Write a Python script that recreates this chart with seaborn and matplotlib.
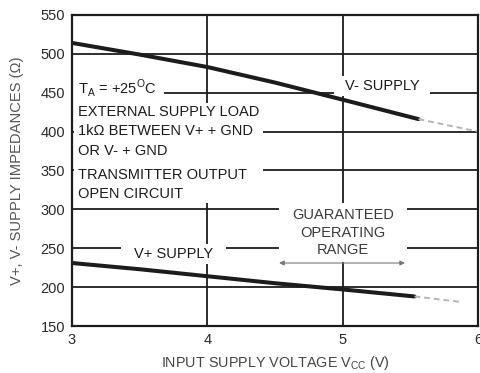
import matplotlib
matplotlib.use("Agg")
import matplotlib.pyplot as plt
from matplotlib.patches import Rectangle
from matplotlib.transforms import Bbox
import pandas as pd
import seaborn as sns

# Supply impedance vs. input supply voltage (TA = +25 C)
vcc_minus = [3.0, 3.5, 4.0, 4.5, 5.0, 5.56]
z_minus = [514, 499, 483, 463, 441, 416]
vcc_minus_ext = [5.56, 6.0]
z_minus_ext = [416, 400]

vcc_plus = [3.0, 3.5, 4.0, 4.5, 5.0, 5.53]
z_plus = [231, 223, 214, 205, 197, 188]
vcc_plus_ext = [5.53, 5.87]
z_plus_ext = [188, 181]

x_ticks = [3, 4, 5, 6]
y_ticks = [150, 200, 250, 300, 350, 400, 450, 500, 550]
operating_range = [4.53, 5.46]

sns.set_theme(style="white")
plt.rcParams["font.family"] = ["Liberation Sans", "DejaVu Sans"]

INK = "#1c1c1c"
FS = 10.5

fig = plt.figure(figsize=(4.8, 3.73), dpi=100)
ax = fig.add_axes([0.15, 0.126, 0.846, 0.834])

solid_minus = pd.DataFrame({"vcc": vcc_minus, "z": z_minus})
solid_plus = pd.DataFrame({"vcc": vcc_plus, "z": z_plus})
sns.lineplot(data=solid_minus, x="vcc", y="z", color=INK, lw=2.9, ax=ax, zorder=4)
sns.lineplot(data=solid_plus, x="vcc", y="z", color=INK, lw=2.9, ax=ax, zorder=4)
sns.lineplot(x=vcc_minus_ext, y=z_minus_ext, color="#b5b5b5", lw=1.4,
             linestyle=(0, (3, 2)), ax=ax, zorder=4)
sns.lineplot(x=vcc_plus_ext, y=z_plus_ext, color="#b5b5b5", lw=1.4,
             linestyle=(0, (3, 2)), ax=ax, zorder=4)

ax.set_xlim(3, 6)
ax.set_ylim(150, 550)
ax.set_xticks(x_ticks)
ax.set_yticks(y_ticks)
ax.set_axisbelow(True)
ax.grid(True, color=INK, lw=1.3)
ax.tick_params(length=0, labelsize=FS, colors="#2a2a2a", pad=5)
for sp in ax.spines.values():
    sp.set_color(INK)
    sp.set_linewidth(1.6)
    sp.set_zorder(5)

ax.set_ylabel("V+, V- SUPPLY IMPEDANCES (\u03a9)", fontsize=10.6, color="#555555", labelpad=12)
ax.set_xlabel("INPUT SUPPLY VOLTAGE V$_\\mathregular{CC}$ (V)", fontsize=10.4,
              color="#444444", labelpad=5)


def label(x, y, s, ha="left", color=INK, size=FS):
    return ax.text(x, y, s, ha=ha, va="center", fontsize=size, color=color, zorder=6)


def mask_behind(texts, padx, pady):
    """White panel behind a group of labels so grid lines stop around them."""
    fig.canvas.draw()
    r = fig.canvas.get_renderer()
    bb = Bbox.union([t.get_window_extent(r) for t in texts])
    inv = ax.transData.inverted()
    (x0, y0), (x1, y1) = inv.transform([[bb.x0 - padx, bb.y0 - pady],
                                        [bb.x1 + padx, bb.y1 + pady]])
    ax.add_patch(Rectangle((x0, y0), x1 - x0, y1 - y0, facecolor="white",
                           edgecolor="none", zorder=1))


t_temp = label(3.045, 456, "T$_\\mathregular{A}$ = +25$^\\mathregular{O}$C")
mask_behind([t_temp], 8, 3)

cond = [
    label(3.045, 425, "EXTERNAL SUPPLY LOAD"),
    label(3.045, 401, "1k\u03a9 BETWEEN V+ + GND"),
    label(3.045, 375, "OR V- + GND"),
    label(3.045, 344, "TRANSMITTER OUTPUT"),
    label(3.045, 320, "OPEN CIRCUIT"),
]
mask_behind(cond, 4, 2)

t_vm = label(5.29, 458, "V- SUPPLY", ha="center")
mask_behind([t_vm], 11, 3)

t_vp = label(3.75, 243, "V+ SUPPLY", ha="center")
mask_behind([t_vp], 13, 3)

gor = [
    label(5.0, 293, "GUARANTEED", ha="center", color="#3a3a3a"),
    label(5.0, 270, "OPERATING", ha="center", color="#3a3a3a"),
    label(5.0, 248, "RANGE", ha="center", color="#3a3a3a"),
]
mask_behind(gor, 13, 5)

ax.annotate("", xy=(operating_range[0], 231), xytext=(operating_range[1], 231),
            arrowprops=dict(arrowstyle="<|-|>", color="#777777", lw=0.8,
                            mutation_scale=7, shrinkA=0, shrinkB=0), zorder=6)

fig.savefig("out.png", dpi=100)
